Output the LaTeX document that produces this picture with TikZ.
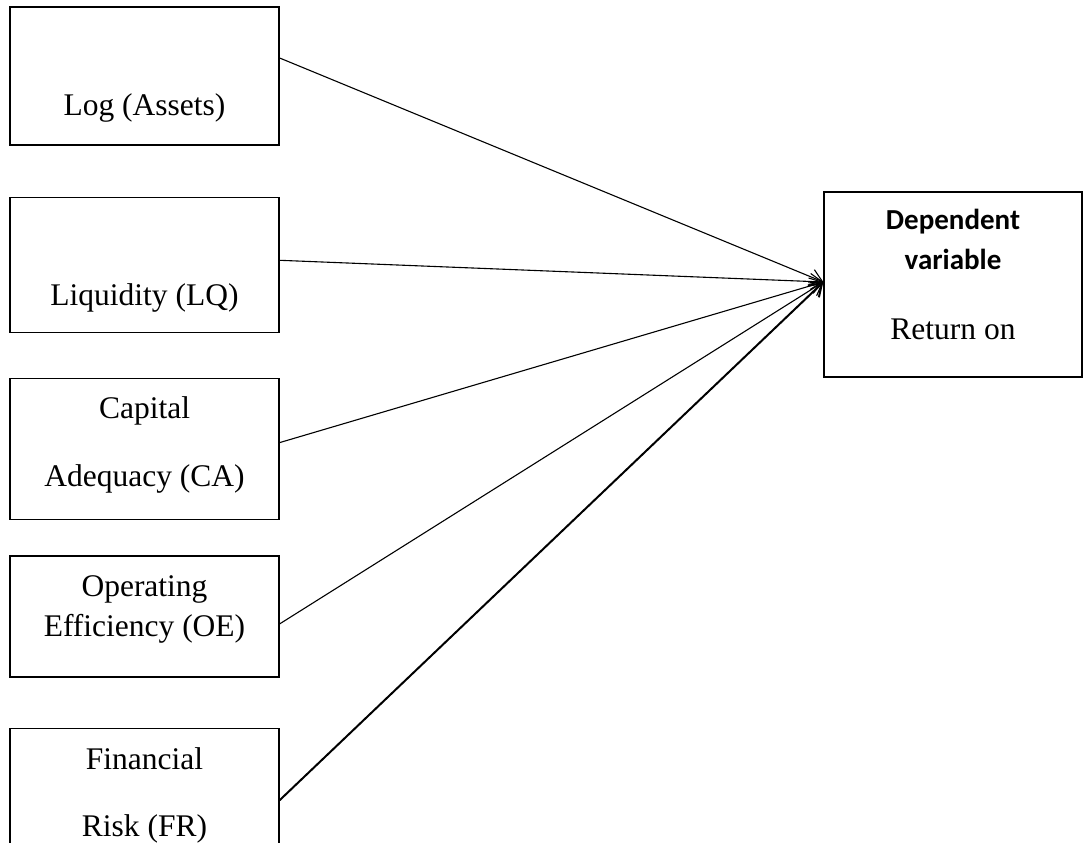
\documentclass[tikz,border=0pt]{standalone}
\usepackage{fontspec}
\setmainfont{Liberation Serif}
\newfontfamily\headfont{Carlito}
\usetikzlibrary{positioning,arrows.meta}
\newcommand{\dephead}[1]{{\headfont\bfseries\fontsize{29}{40}\selectfont #1}}

\begin{document}
\begin{tikzpicture}[
    font=\fontsize{31.5}{40}\selectfont,
    box/.style={draw=black, line width=1.3pt, minimum width=269pt, inner sep=0pt},
    lbl/.style={anchor=base, align=center, inner sep=0pt},
    arrow/.style={-{Straight Barb[length=12pt,width=16pt]}, line width=1.1pt},
  ]
    \useasboundingbox (0,0) rectangle (1084pt,-843pt);
    \clip (0,0) rectangle (1084pt,-843pt);

    \node[box, minimum height=138pt] (size) at (144.5pt,-76pt) {};
    \node[box, minimum height=135pt, below=51pt of size] (liq) {};
    \node[box, minimum height=141pt, below=45pt of liq] (cap) {};
    \node[box, minimum height=121pt, below=35pt of cap] (oper) {};
    \node[box, minimum height=138pt, below=50pt of oper] (risk) {};
    \node[box, minimum width=258pt, minimum height=185pt] (dep) at (953pt,-284.5pt) {};

    % base of a multi-line label is its last line
    \node[lbl] (sizetxt) at ([yshift=-109pt]size.north) {Log (Assets)};
    \node[lbl] (liqtxt) at ([yshift=-109pt]liq.north) {Liquidity (LQ)};
    \node[lbl] (captxt) at ([yshift=-109pt]cap.north) {Capital\\[28pt]Adequacy (CA)};
    \node[lbl] (opertxt) at ([yshift=-81pt]oper.north) {Operating\\Efficiency (OE)};
    \node[lbl] (risktxt) at ([yshift=-109pt]risk.north) {Financial\\[27pt]Risk (FR)};
    \node[lbl] (deptxt) at ([yshift=-148pt]dep.north)
       {\dephead{Dependent}\\\dephead{variable}\\[30pt]Return on};

    \draw[arrow] ([yshift=18pt]size.east) -- ([yshift=2.5pt]dep.west);
    \draw[arrow] ([yshift=4.5pt]liq.east) -- ([yshift=2.5pt]dep.west);
    \draw[arrow] ([yshift=6.5pt]cap.east) -- ([yshift=2.5pt]dep.west);
    \draw[arrow] ([yshift=-7.5pt]oper.east) -- ([yshift=2.5pt]dep.west);
    \draw[arrow, line width=2pt] ([yshift=-3pt]risk.east) -- ([yshift=2.5pt]dep.west);
  \end{tikzpicture}
\end{document}
